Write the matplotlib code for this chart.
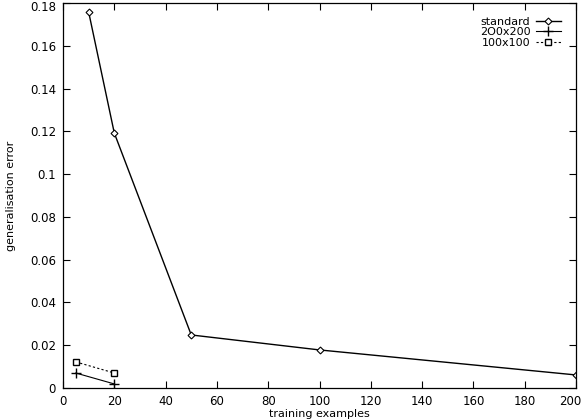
import matplotlib
matplotlib.use("Agg")
import matplotlib.pyplot as plt
import matplotlib.transforms as mtransforms

std_x = [10, 20, 50, 100, 200]
std_y = [0.1758, 0.1192, 0.0248, 0.0178, 0.0061]
b200_x = [5, 20]
b200_y = [0.0070, 0.0019]
b100_x = [5, 20]
b100_y = [0.0122, 0.0070]
labels = ["standard", "2O0x200", "100x100"]
xticks = list(range(0, 201, 20))
yticks = [0, 0.02, 0.04, 0.06, 0.08, 0.1, 0.12, 0.14, 0.16, 0.18]
ytick_labels = ["0", "0.02", "0.04", "0.06", "0.08", "0.1", "0.12", "0.14", "0.16", "0.18"]

plt.rcParams['font.family'] = ['DejaVu Sans']
fig = plt.figure(figsize=(5.84, 4.2), dpi=100)
ax = fig.add_axes([63/584, 32/420, (576-63)/584, (388-3)/420])

ax.plot(std_x, std_y, color='black', lw=1.0, marker='D', ms=3.5, mfc='white', mec='black', mew=0.8, label=labels[0])
ax.plot(b200_x, b200_y, color='black', lw=0.8, marker='+', ms=7, mew=1.0, label=labels[1])
ax.plot(b100_x, b100_y, color='black', lw=0.8, ls=(0, (2, 2)), marker='s', ms=5, mfc='white', mec='black', mew=1.0, label=labels[2])

ax.set_xlim(0, 200)
ax.set_ylim(0, 0.18)
ax.set_xticks(xticks)
ax.set_yticks(yticks)
ax.set_yticklabels(ytick_labels)
ax.tick_params(direction='in', top=True, right=True, length=5, width=0.8, labelsize=8.5, pad=5)
for s in ax.spines.values():
    s.set_linewidth(0.9)
ax.set_xlabel("training examples", fontsize=8, labelpad=1)
ax.set_ylabel("generalisation error", fontsize=8, labelpad=10)

fig.canvas.draw()
xl = ax.get_xticklabels()
xl[-1].set_transform(xl[-1].get_transform() + mtransforms.ScaledTranslation(-6/100, 0, fig.dpi_scale_trans))
yl = ax.get_yticklabels()
yl[-1].set_transform(yl[-1].get_transform() + mtransforms.ScaledTranslation(0, -3/100, fig.dpi_scale_trans))

leg = ax.legend(loc='upper right', markerfirst=False, frameon=False, fontsize=8,
                handlelength=2.2, handletextpad=0.5, labelspacing=0.05,
                borderaxespad=0.3, bbox_to_anchor=(0.985, 0.985))
for t in leg.get_texts():
    t.set_ha('right')

fig.savefig("out.png", dpi=100)
